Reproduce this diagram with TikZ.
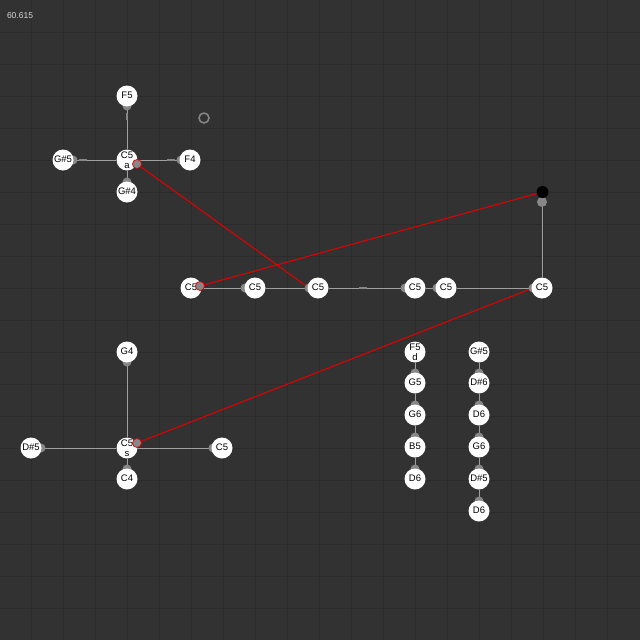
\documentclass[tikz,border=0pt]{standalone}
\usepackage{fontspec}
\setmainfont{Liberation Sans}
\usetikzlibrary{backgrounds}
\definecolor{canvas}{HTML}{323232}
\definecolor{gridline}{HTML}{2B2B2B}
\definecolor{wirecol}{HTML}{A0A0A0}
\definecolor{portcol}{HTML}{878787}
\definecolor{linkred}{HTML}{E00000}
\tikzset{
note/.style={circle,fill=white,minimum size=21pt,inner sep=0pt,align=center,
  text depth=2pt,font=\fontsize{9.5}{10}\selectfont},
port/.style={circle,fill=portcol,minimum size=9pt,inner sep=0pt},
ringport/.style={port,draw=linkred,line width=0.7pt},
vtick/.style={fill=portcol,inner sep=0pt,minimum width=2pt,minimum height=7pt},
htick/.style={fill=portcol,inner sep=0pt,minimum width=8pt,minimum height=2.5pt},
wire/.style={draw=wirecol,line width=0.8pt},
link/.style={draw=linkred,line width=1.1pt}
}

\begin{document}
\begin{tikzpicture}[x=1pt,y=-1pt]
\useasboundingbox (0,0) rectangle (640,640);
\node[font=\fontsize{8.5}{8.5}\selectfont,text=white!85!black] (score) at (20,16) {60.615};

% top cluster
\node[note,text depth=0pt] (c5a) at (127,160) {C5\\a};
\node[note] (f5t) at (127,96) {F5};
\node[note] (gs5t) at (63,160) {G\#5};
\node[note] (f4t) at (190,160) {F4};
\node[note] (gs4t) at (127,192) {G\#4};
\node[circle,draw=portcol,line width=1.5pt,minimum size=10pt,inner sep=0pt] (ring) at (204,118) {};

% row
\node[note] (r1) at (191,288) {C5};
\node[note] (r2) at (255,288) {C5};
\node[note] (r3) at (318,288) {C5};
\node[note] (r4) at (415,288) {C5};
\node[note] (r5) at (446,288) {C5};
\node[note] (r6) at (542,288) {C5};
\node[circle,fill=black,minimum size=12pt,inner sep=0pt] (k) at (542.5,192) {};

% bottom cluster
\node[note,text depth=0pt] (c5s) at (127,448) {C5\\s};
\node[note] (g4b) at (127,352) {G4};
\node[note] (ds5b) at (31,448) {D\#5};
\node[note] (c5b) at (222,448) {C5};
\node[note] (c4b) at (127,479) {C4};

% columns
\node[note,text depth=0pt] (d1) at (415,352) {F5\\d};
\node[note] (d2) at (415,383) {G5};
\node[note] (d3) at (415,415) {G6};
\node[note] (d4) at (415,447) {B5};
\node[note] (d5) at (415,479) {D6};
\node[note] (e1) at (479,352) {G\#5};
\node[note] (e2) at (479,383) {D\#6};
\node[note] (e3) at (479,415) {D6};
\node[note] (e4) at (479,447) {G6};
\node[note] (e5) at (479,479) {D\#5};
\node[note] (e6) at (479,511) {D6};

\begin{scope}[on background layer]
\fill[canvas] (0,0) rectangle (640,640);
\foreach \i in {1,...,19} {
  \draw[gridline,line width=0.9pt] (32*\i-0.5,0) -- (32*\i-0.5,640);
  \draw[gridline,line width=0.9pt] (0,32*\i) -- (640,32*\i);
}
\end{scope}

\begin{scope}[on background layer]
\path[wire] (f5t) -- (c5a) (gs5t) -- (c5a) (f4t) -- (c5a) (gs4t) -- (c5a);
\path[wire] (r1) -- (r2) -- (r3) -- (r4) -- (r5) -- (r6);
\node[port,minimum size=10pt] (q) at (542,202) {};
\path[wire] (r6) -- (q);
\path[wire] (g4b) -- (c5s) (ds5b) -- (c5s) (c5b) -- (c5s) (c4b) -- (c5s);
\path[wire] (d1) -- (d2) -- (d3) -- (d4) -- (d5);
\path[wire] (e1) -- (e2) -- (e3) -- (e4) -- (e5) -- (e6);
% ports
\node[port] (pf5) at (127,106) {};
\node[vtick] (tf5) at (127,116) {};
\node[port] (pgs5) at (73,160) {};
\node[htick] (tgs5) at (83,160) {};
\node[port] (pf4) at (181,160) {};
\node[htick] (tf4) at (171,160) {};
\node[port] (pgs4) at (127,182) {};
\node[port] (p2) at (245,288) {};
\node[port] (p3) at (309,288) {};
\node[htick] (t34) at (363,288) {};
\node[port] (p4) at (405,288) {};
\node[port] (p5) at (437,288) {};
\node[port] (p6) at (533,288) {};
\node[port] (pg4) at (127,362) {};
\node[port] (pds5) at (41,448) {};
\node[port] (pc5) at (213,448) {};
\node[port] (pc4) at (127,469) {};
\foreach \y [count=\j from 2] in {373,405,437,469} \node[port] (pd\j) at (415,\y) {};
\foreach \y [count=\j from 2] in {373,405,437,469,501} \node[port] (pe\j) at (479,\y) {};
\end{scope}

% red links
\node[ringport] (pa) at (137,164) {};
\node[ringport] (pr1) at (200,286) {};
\node[ringport] (ps) at (137,443) {};
\path[link] (pa) -- (p3);
\path[link] (k) -- (pr1);
\path[link] (p6) -- (ps);
\end{tikzpicture}
\end{document}
